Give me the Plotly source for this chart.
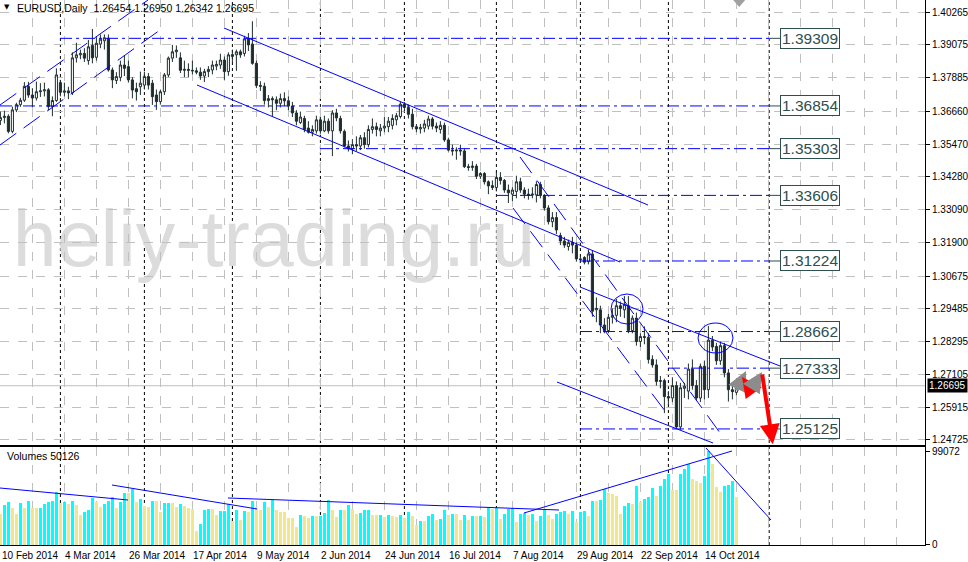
import pandas as pd
import plotly.graph_objects as go

# ---------------- data ----------------
DATES = pd.bdate_range("2014-02-10", "2014-10-24")

OPEN = [1.3633,1.3643,1.3648,1.3593,1.3671,1.3690,1.3706,1.3757,1.3725,1.3714,
        1.3737,1.3740,1.3744,1.3683,1.3705,1.3770,1.3735,1.3740,1.3733,1.3860,
        1.3871,1.3876,1.3850,1.3905,1.3862,1.3910,1.3922,1.3931,1.3816,1.3778,
        1.3789,1.3834,1.3828,1.3780,1.3748,1.3755,1.3761,1.3792,1.3768,1.3725,
        1.3701,1.3737,1.3798,1.3859,1.3882,1.3860,1.3815,1.3818,1.3815,1.3813,
        1.3808,1.3794,1.3810,1.3816,1.3830,1.3834,1.3852,1.3810,1.3865,1.3871,
        1.3882,1.3876,1.3929,1.3910,1.3840,1.3760,1.3757,1.3705,1.3712,1.3708,
        1.3695,1.3712,1.3704,1.3685,1.3660,1.3625,1.3640,1.3605,1.3590,1.3595,
        1.3635,1.3595,1.3630,1.3595,1.3660,1.3640,1.3593,1.3540,1.3530,1.3545,
        1.3540,1.3570,1.3545,1.3600,1.3610,1.3595,1.3605,1.3610,1.3615,1.3635,
        1.3647,1.3692,1.3680,1.3655,1.3610,1.3602,1.3605,1.3612,1.3638,1.3612,
        1.3600,1.3615,1.3562,1.3525,1.3522,1.3525,1.3522,1.3465,1.3462,1.3467,
        1.3430,1.3440,1.3410,1.3396,1.3389,1.3426,1.3415,1.3380,1.3365,1.3375,
        1.3410,1.3380,1.3365,1.3362,1.3362,1.3400,1.3360,1.3315,1.3265,1.3280,
        1.3215,1.3195,1.3175,1.3190,1.3180,1.3130,1.3135,1.3120,1.3148,1.2945,
        1.2945,1.2890,1.2870,1.2918,1.2925,1.2960,1.2945,1.2960,1.2870,1.2915,
        1.2830,1.2848,1.2845,1.2765,1.2745,1.2685,1.2688,1.2630,1.2625,1.2670,
        1.2520,1.2660,1.2650,1.2730,1.2670,1.2625,1.2740,1.2655,1.2835,1.2812,
        1.2760,1.2815,1.2716,1.2655,1.26454]
HIGH = [1.3665,1.3668,1.3655,1.3683,1.3697,1.3715,1.3772,1.3773,1.3750,1.3774,
        1.3768,1.3770,1.3750,1.3720,1.3822,1.3780,1.3770,1.3755,1.3880,1.3915,
        1.3890,1.3895,1.3925,1.3965,1.3935,1.3945,1.3945,1.3945,1.3825,1.3808,
        1.3850,1.3870,1.3850,1.3790,1.3770,1.3810,1.3810,1.3805,1.3780,1.3745,
        1.3745,1.3805,1.3865,1.3907,1.3905,1.3880,1.3850,1.3840,1.3850,1.3825,
        1.3825,1.3820,1.3830,1.3850,1.3850,1.3875,1.3865,1.3880,1.3890,1.3890,
        1.3890,1.3940,1.3950,1.3993,1.3850,1.3775,1.3770,1.3725,1.3720,1.3720,
        1.3730,1.3735,1.3720,1.3700,1.3670,1.3665,1.3650,1.3630,1.3615,1.3650,
        1.3645,1.3650,1.3640,1.3670,1.3675,1.3650,1.3600,1.3560,1.3565,1.3575,
        1.3580,1.3590,1.3615,1.3640,1.3625,1.3620,1.3645,1.3645,1.3655,1.3660,
        1.3700,1.3700,1.3690,1.3675,1.3620,1.3620,1.3635,1.3650,1.3645,1.3625,
        1.3630,1.3625,1.3570,1.3545,1.3535,1.3545,1.3530,1.3475,1.3485,1.3475,
        1.3445,1.3445,1.3415,1.3415,1.3445,1.3445,1.3420,1.3400,1.3390,1.3432,
        1.3425,1.3390,1.3385,1.3390,1.3412,1.3410,1.3365,1.3325,1.3300,1.3300,
        1.3225,1.3210,1.3200,1.3210,1.3190,1.3140,1.3140,1.3165,1.3162,1.2990,
        1.2960,1.2915,1.2930,1.2950,1.2985,1.2975,1.2995,1.2995,1.2925,1.2935,
        1.2860,1.2885,1.2860,1.2780,1.2765,1.2705,1.2695,1.2650,1.2700,1.2685,
        1.2680,1.2680,1.2750,1.2765,1.2690,1.2750,1.2760,1.2886,1.2850,1.2825,
        1.2830,1.2825,1.2730,1.2680,1.26950]
LOW = [1.3616,1.3622,1.3586,1.3586,1.3663,1.3682,1.3700,1.3715,1.3680,1.3705,
       1.3718,1.3720,1.3670,1.3648,1.3700,1.3720,1.3720,1.3710,1.3725,1.3843,
       1.3855,1.3845,1.3835,1.3840,1.3850,1.3895,1.3890,1.3810,1.3750,1.3765,
       1.3775,1.3794,1.3770,1.3713,1.3705,1.3725,1.3745,1.3745,1.3689,1.3671,
       1.3690,1.3725,1.3790,1.3845,1.3860,1.3805,1.3790,1.3790,1.3800,1.3800,
       1.3780,1.3772,1.3790,1.3800,1.3815,1.3820,1.3780,1.3795,1.3845,1.3813,
       1.3860,1.3865,1.3885,1.3835,1.3750,1.3740,1.3690,1.3680,1.3648,1.3670,
       1.3680,1.3685,1.3670,1.3645,1.3615,1.3620,1.3590,1.3585,1.3575,1.3585,
       1.3585,1.3590,1.3585,1.3503,1.3630,1.3585,1.3535,1.3520,1.3510,1.3520,
       1.3525,1.3530,1.3535,1.3585,1.3575,1.3575,1.3590,1.3590,1.3600,1.3615,
       1.3640,1.3665,1.3640,1.3600,1.3590,1.3585,1.3590,1.3600,1.3600,1.3590,
       1.3585,1.3555,1.3520,1.3505,1.3490,1.3505,1.3460,1.3450,1.3450,1.3420,
       1.3420,1.3400,1.3365,1.3380,1.3375,1.3400,1.3370,1.3333,1.3340,1.3350,
       1.3370,1.3350,1.3345,1.3350,1.3335,1.3350,1.3305,1.3255,1.3245,1.3220,
       1.3180,1.3170,1.3160,1.3150,1.3120,1.3115,1.3110,1.3110,1.2920,1.2900,
       1.2860,1.2860,1.2860,1.2895,1.2900,1.2920,1.2915,1.2860,1.2860,1.2815,
       1.2810,1.2820,1.2750,1.2735,1.2670,1.2660,1.2570,1.2600,1.2610,1.2512,
       1.2510,1.2625,1.2620,1.2655,1.2615,1.2610,1.2620,1.2625,1.2795,1.2745,
       1.2745,1.2700,1.2612,1.2620,1.26342]
CLOSE = [1.3643,1.3648,1.3593,1.3671,1.3690,1.3706,1.3757,1.3725,1.3714,1.3737,
         1.3740,1.3744,1.3683,1.3705,1.3798,1.3735,1.3740,1.3733,1.3860,1.3871,
         1.3876,1.3859,1.3900,1.3860,1.3913,1.3928,1.3933,1.3816,1.3780,1.3792,
         1.3834,1.3822,1.3780,1.3743,1.3737,1.3768,1.3792,1.3761,1.3719,1.3701,
         1.3737,1.3798,1.3859,1.3882,1.3888,1.3815,1.3818,1.3815,1.3813,1.3808,
         1.3794,1.3810,1.3818,1.3834,1.3836,1.3852,1.3810,1.3871,1.3872,1.3882,
         1.3871,1.3929,1.3907,1.3840,1.3760,1.3757,1.3705,1.3712,1.3708,1.3695,
         1.3712,1.3704,1.3685,1.3660,1.3630,1.3645,1.3600,1.3590,1.3600,1.3635,
         1.3595,1.3630,1.3595,1.3660,1.3642,1.3595,1.3540,1.3530,1.3545,1.3540,
         1.3570,1.3545,1.3600,1.3610,1.3600,1.3605,1.3612,1.3630,1.3640,1.3650,
         1.3692,1.3680,1.3655,1.3610,1.3602,1.3607,1.3620,1.3638,1.3612,1.3605,
         1.3615,1.3562,1.3525,1.3522,1.3525,1.3522,1.3465,1.3462,1.3467,1.3430,
         1.3440,1.3410,1.3395,1.3389,1.3426,1.3415,1.3380,1.3370,1.3380,1.3410,
         1.3380,1.3365,1.3362,1.3365,1.3400,1.3360,1.3315,1.3265,1.3280,1.3235,
         1.3195,1.3180,1.3190,1.3180,1.3130,1.3128,1.3118,1.3148,1.2940,1.2950,
         1.2890,1.2870,1.2918,1.2925,1.2960,1.2950,1.2965,1.2870,1.2915,1.2830,
         1.2848,1.2845,1.2765,1.2745,1.2685,1.2688,1.2630,1.2625,1.2670,1.2520,
         1.2662,1.2668,1.2730,1.2670,1.2625,1.2740,1.2655,1.2835,1.2810,1.2760,
         1.2815,1.2716,1.2655,1.2648,1.26695]
VOLUME_K = [33.0,41.7,45.2,39.3,32.3,44.1,39.3,46.9,39.3,39.0,
            39.5,42.7,45.2,46.9,55.6,44.1,45.2,42.7,46.2,41.7,
            31.3,34.8,37.1,49.7,45.2,40.0,42.7,46.2,51.0,39.3,
            45.2,54.5,54.4,59.1,45.2,48.7,40.6,40.0,46.9,45.9,
            34.8,44.1,44.2,44.0,40.0,42.7,40.6,39.3,38.3,15.0,
            22.6,37.1,38.3,38.0,31.3,35.8,35.9,42.7,25.4,36.5,
            26.1,35.5,34.8,46.9,40.0,37.1,45.2,40.0,47.9,36.5,
            34.8,34.7,28.9,28.8,19.1,31.3,30.3,28.9,30.3,30.2,
            30.4,33.7,47.9,37.1,29.6,36.5,36.4,41.7,38.3,32.3,
            33.7,36.5,37.1,32.0,31.3,31.4,29.6,31.3,30.3,29.6,
            31.3,28.9,34.8,30.3,20.9,25.4,25.3,30.3,33.0,26.8,
            26.9,36.5,31.3,33.0,32.9,26.1,31.3,26.1,30.3,30.2,
            30.4,29.5,40.0,38.3,39.3,27.8,33.0,38.3,39.0,24.3,
            33.0,33.4,31.3,32.3,25.4,30.3,36.5,31.3,27.8,33.0,
            34.8,35.8,33.0,35.8,24.3,34.8,36.0,31.0,46.9,46.2,
            47.9,59.1,55.0,53.7,52.1,32.3,40.6,44.1,43.5,62.6,
            45.2,48.7,50.4,59.8,51.3,62.6,70.0,74.8,58.4,57.7,
            74.8,80.0,85.2,70.0,67.8,65.1,73.0,99.072,85.2,61.6,
            55.6,62.6,63.0,67.8,50.126]

PRICE_TICKS = [1.40265, 1.39075, 1.37885, 1.36660, 1.35470, 1.34280, 1.33090,
               1.31900, 1.30675, 1.29485, 1.28295, 1.27105, 1.25915, 1.24725]
LEVELS = [1.39309, 1.36854, 1.35303, 1.33606, 1.31224, 1.28662, 1.27333, 1.25125]
LEVEL_FROM_BAR = [14.9, -0.1, 79.9, 124.15, 144.9, 144.9, 166.9, 144.9]
LAST = {"open": 1.26454, "high": 1.26950, "low": 1.26342, "close": 1.26695}
VOLUME_LABEL = 50126
VOLUME_MAX = 99072

# drawn objects (bar index, price) pairs
TREND_SOLID = [(55.9, 1.39684, 161.9, 1.33257),
               (49.15, 1.37614, 154.9, 1.31187),
               (144.9, 1.30279, 194.9, 1.27411),
               (139.15, 1.26830, 178.15, 1.24615)]
TREND_DASHED = [(-0.1, 1.35436, 39.9, 1.39611),
                (-0.1, 1.36888, 36.9, 1.40701),
                (129.9, 1.35000, 180.65, 1.24833),
                (128.15, 1.33148, 166.9, 1.25632)]
VOLUME_LINES = [(-0.1, 60078, 31.9, 47430),
                (27.9, 63240, 64.15, 37944),
                (56.9, 49538, 139.65, 36890),
                (130.9, 33728, 182.9, 99076),
                (176.4, 102238, 192.65, 26350)]
CIRCLES = [(152.65, 1.30025, 160.65, 1.28936), (174.4, 1.28972, 183.15, 1.27883)]
ARROWS = [  # tail bar, tail price, head bar, head price, colour
    (183.9, 1.26467, 186.4, 1.27229, "#8c8c8c"),
    (187.4, 1.26612, 185.4, 1.27012, "#ff0000"),
    (187.9, 1.26612, 190.4, 1.27193, "#8c8c8c"),
    (190.4, 1.27157, 193.1, 1.2457, "#ff0000"),
]

# ---------------- figure ----------------
N = len(DATES)
idx = list(range(N))
volumes = [round(v * 1000) for v in VOLUME_K]
vol_colors = ["#F0E68C"] + ["#00FFFF" if volumes[k] > volumes[k - 1] else "#F0E68C" for k in range(1, N)]

FONT = "Liberation Sans, Arial, sans-serif"
DARK = "#1f2d2d"
BLUE = "#0000FF"
XR = [-0.1, 231.15]
YR = [1.245424, 1.407007]

fig = go.Figure()
fig.add_trace(go.Candlestick(
    x=idx, open=OPEN, high=HIGH, low=LOW, close=CLOSE,
    increasing=dict(line=dict(color=DARK, width=1), fillcolor="#FFFFFF"),
    decreasing=dict(line=dict(color=DARK, width=1), fillcolor=DARK),
    whiskerwidth=0, xaxis="x", yaxis="y", showlegend=False, hoverinfo="skip"))
fig.add_trace(go.Bar(
    x=idx, y=volumes, marker=dict(color=vol_colors, line=dict(width=0)),
    width=0.75, xaxis="x2", yaxis="y2", showlegend=False, hoverinfo="skip"))

shapes = []
# watermark
shapes.append(dict(type="rect", xref="x", yref="y", x0=3.6, x1=133.2, y0=1.30860, y1=1.33765,
                   line=dict(width=0), fillcolor="rgba(0,0,0,0)", layer="below",
                   label=dict(text="heliy-trading.ru", font=dict(size=79, color="#DCDCDC", family=FONT),
                              textposition="middle center")))
# period separators (first bar of each month) + future one
seps = [k for k in range(1, N) if DATES[k].month != DATES[k - 1].month] + [192.2]
for s in seps:
    shapes.append(dict(type="line", xref="x", yref="paper", x0=s, x1=s, y0=0, y1=1,
                       line=dict(color="#000000", width=1, dash="dot"), layer="below"))
# bid line
shapes.append(dict(type="line", xref="x", yref="y", x0=XR[0], x1=XR[1], y0=LAST["close"], y1=LAST["close"],
                   line=dict(color="#C0C0C0", width=1), layer="below"))
# horizontal levels
for lv, x0 in zip(LEVELS, LEVEL_FROM_BAR):
    shapes.append(dict(type="line", xref="x", yref="y", x0=x0, x1=192.2, y0=lv, y1=lv,
                       line=dict(color=BLUE, width=1, dash="12px,4px,3px,4px")))
    shapes.append(dict(type="line", xref="x", yref="y", x0=192.2, x1=194.9, y0=lv, y1=lv,
                       line=dict(color="#2F4F4F", width=1)))
for (a, b, c, d) in TREND_SOLID:
    shapes.append(dict(type="line", xref="x", yref="y", x0=a, y0=b, x1=c, y1=d,
                       line=dict(color=BLUE, width=1)))
for (a, b, c, d) in TREND_DASHED:
    shapes.append(dict(type="line", xref="x", yref="y", x0=a, y0=b, x1=c, y1=d,
                       line=dict(color=BLUE, width=1, dash="20px,9px")))
for (a, b, c, d) in VOLUME_LINES:
    shapes.append(dict(type="line", xref="x2", yref="y2", x0=a, y0=b, x1=c, y1=d,
                       line=dict(color=BLUE, width=1)))
for (a, b, c, d) in CIRCLES:
    shapes.append(dict(type="circle", xref="x", yref="y", x0=a, y0=b, x1=c, y1=d,
                       line=dict(color=BLUE, width=1)))
# chart-shift marker
shapes.append(dict(type="path", xref="x", yref="y",
                   path="M 183.2,1.40701 L 186.2,1.40701 L 184.7,1.40447 Z",
                   fillcolor="#A0A0A0", line=dict(width=0)))

ann = []
for lv in LEVELS:
    ann.append(dict(xref="x", yref="y", x=194.9, y=lv, xanchor="left", yanchor="middle",
                    text=f"{lv:.5f}", showarrow=False,
                    font=dict(size=15.5, color="#2F4F4F", family=FONT),
                    bordercolor="#2F4F4F", borderwidth=1, borderpad=1, bgcolor="#FFFFFF"))
for (tx, ty, hx, hy, col) in ARROWS:
    ann.append(dict(xref="x", yref="y", axref="x", ayref="y", x=hx, y=hy, ax=tx, ay=ty,
                    text="", showarrow=True, arrowhead=2, arrowsize=1, arrowwidth=4,
                    arrowcolor=col, standoff=0, startstandoff=0))
# date labels
for k in range(0, N, 16):
    d = DATES[k]
    ann.append(dict(xref="x", yref="paper", x=max(k - 0.35, -0.05), y=-0.0185,
                    xanchor="left", yanchor="middle",
                    text=f"{d.day} {d.strftime('%b %Y')}", showarrow=False,
                    font=dict(size=10, color="#000000", family=FONT)))
# title
ann.append(dict(xref="paper", yref="paper", x=0.002, y=0.987, xanchor="left", yanchor="middle",
                text="▼", showarrow=False, font=dict(size=7, color="#000000", family="DejaVu Sans")))
ann.append(dict(xref="paper", yref="paper", x=0.016, y=0.986, xanchor="left", yanchor="middle",
                text=f"EURUSD,Daily  {LAST['open']:.5f} {LAST['high']:.5f} {LAST['low']:.5f} {LAST['close']:.5f}",
                showarrow=False, font=dict(size=10.5, color="#000000", family=FONT)))
ann.append(dict(xref="paper", yref="paper", x=0.005, y=0.163, xanchor="left", yanchor="middle",
                text=f"Volumes {VOLUME_LABEL}", showarrow=False,
                font=dict(size=10.5, color="#000000", family=FONT)))
# current price box
ann.append(dict(xref="paper", yref="y", x=1.0, y=LAST["close"], xanchor="left", yanchor="middle",
                xshift=2, text=f"{LAST['close']:.5f}", showarrow=False,
                font=dict(size=10, color="#FFFFFF", family=FONT), bgcolor="#000000", borderpad=1))

grid = dict(showgrid=True, gridcolor="#C0C0C0", griddash="dash", gridwidth=1)
fig.update_layout(
    width=968, height=562, margin=dict(l=0, r=43, t=0, b=17),
    paper_bgcolor="#FFFFFF", plot_bgcolor="#FFFFFF",
    font=dict(family=FONT, size=10, color="#000000"),
    boxgap=0.25, bargap=0, hovermode=False, showlegend=False,
    xaxis=dict(domain=[0, 1], range=XR, anchor="y", tick0=0, dtick=8, showticklabels=False,
               ticks="", zeroline=False, showline=True, linecolor="#000000", linewidth=1,
               rangeslider=dict(visible=False), **grid),
    xaxis2=dict(domain=[0, 1], range=XR, anchor="y2", matches="x", tick0=0, dtick=8,
                showticklabels=False, ticks="", zeroline=False, showline=True, mirror=True,
                linecolor="#000000", linewidth=1, **grid),
    yaxis=dict(domain=[0.18349, 1], range=YR, side="right", anchor="x",
               tickvals=PRICE_TICKS, ticktext=[f"{t:.5f}" for t in PRICE_TICKS],
               ticks="outside", ticklen=4, tickcolor="#000000", showline=True,
               linecolor="#000000", linewidth=1, zeroline=False,
               tickfont=dict(size=10, family=FONT, color="#000000"), **grid),
    yaxis2=dict(domain=[0, 0.17982], range=[0, 103300], side="right", anchor="x2",
                tickvals=[0, VOLUME_MAX], ticktext=["0", str(VOLUME_MAX)],
                ticks="outside", ticklen=4, tickcolor="#000000", showline=True,
                linecolor="#000000", linewidth=1, showgrid=False, zeroline=False,
                tickfont=dict(size=10, family=FONT, color="#000000")),
    shapes=shapes, annotations=ann,
)

fig.write_html("out.html", config={"displayModeBar": False},
               post_script="document.body.style.margin='0';document.body.style.overflow='hidden';")
